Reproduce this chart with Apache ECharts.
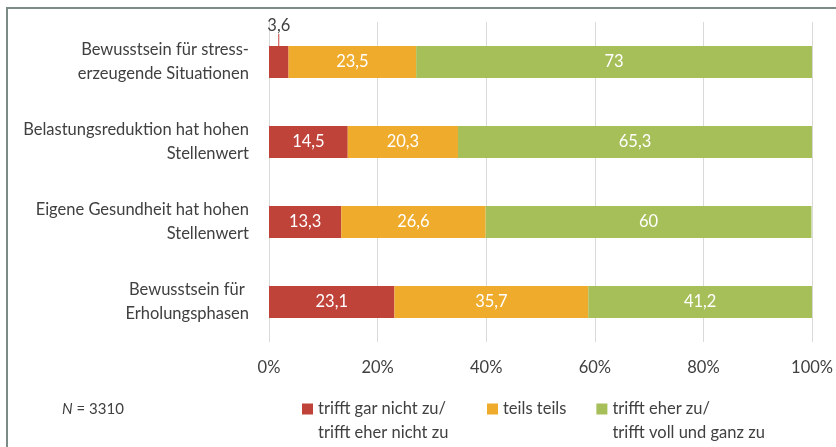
<!DOCTYPE html>
<html>
<head>
<meta charset="utf-8">
<script src="https://cdn.jsdelivr.net/npm/echarts@6/dist/echarts.min.js"></script>
<style>
  html, body { margin: 0; padding: 0; background: #fff; }
  #chart { width: 836px; height: 447px; }
</style>
</head>
<body>
<div id="chart"></div>
<script>
// Daten
const categories = [
  'Bewusstsein für stress-\nerzeugende Situationen',
  'Belastungsreduktion hat hohen\nStellenwert',
  'Eigene Gesundheit hat hohen\nStellenwert',
  'Bewusstsein für \nErholungsphasen'
]
const seriesNames = [
  'trifft gar nicht zu/\ntrifft eher nicht zu',
  'teils teils',
  'trifft eher zu/\ntrifft voll und ganz zu'
]
const nichtZu = [3.6, 14.5, 13.3, 23.1]
const teils = [23.5, 20.3, 26.6, 35.7]
const eherZu = [73, 65.3, 60, 41.2]
const xTicks = [0, 20, 40, 60, 80, 100]
const colors = ['#C0433A', '#EFAB2B', '#A6BF58']

const font = 'Lato, "Open Sans", sans-serif'
const textColor = '#404040'
const fs = 16.5

function fmt (v) {
  return String(v).replace('.', ',')
}

function makeSeries (name, data, color) {
  return {
    name: name,
    type: 'bar',
    stack: 'total',
    barWidth: 32,
    itemStyle: { color: color },
    label: {
      show: true,
      position: 'inside',
      color: '#fff',
      fontFamily: font,
      fontSize: fs,
      formatter: p => fmt(p.value)
    },
    emphasis: { disabled: true },
    data: data.slice()
  }
}

const series = [
  makeSeries(seriesNames[0], nichtZu, colors[0]),
  makeSeries(seriesNames[1], teils, colors[1]),
  makeSeries(seriesNames[2], eherZu, colors[2])
]
// kleiner Wert: Beschriftung oberhalb mit Linie
series[0].data[0] = {
  value: nichtZu[0],
  label: { position: 'top', distance: 11, color: textColor },
  labelLine: { show: true, lineStyle: { color: colors[0], width: 1 } }
}
series[0].labelLine = { show: false }
series[0].labelLayout = function (p) {
  return p.dataIndex === 0 ? { dy: -1 } : {}
}

// Legende: gemeinsame Einstellungen
function makeLegend (left, names) {
  return {
    left: left,
    top: 373,
    padding: 0,
    itemWidth: 11,
    itemHeight: 11,
    itemGap: 30,
    icon: 'rect',
    // Leerzeile davor, damit das Symbol auf Höhe der ersten Zeile steht
    formatter: name => (name.indexOf('\n') >= 0 ? '\n' + name : name),
    textStyle: { color: textColor, fontFamily: font, fontSize: fs, lineHeight: 24 },
    data: names
  }
}

const chart = echarts.init(document.getElementById('chart'))
chart.setOption({
  animation: false,
  grid: { left: 269, right: 23, top: 22, bottom: 105, containLabel: false },
  xAxis: {
    type: 'value',
    min: xTicks[0],
    max: xTicks[xTicks.length - 1],
    interval: 20,
    axisLine: { show: false },
    axisTick: { show: false },
    splitLine: { lineStyle: { color: '#D9D9D9', width: 1 } },
    axisLabel: {
      margin: 17,
      color: textColor,
      fontFamily: font,
      fontSize: fs,
      formatter: '{value}%'
    }
  },
  yAxis: {
    type: 'category',
    inverse: true,
    data: categories,
    axisLine: { show: false },
    axisTick: { show: false },
    axisLabel: {
      margin: 20,
      color: textColor,
      fontFamily: font,
      fontSize: fs,
      lineHeight: 24,
      align: 'right'
    }
  },
  legend: [
    makeLegend(302, [seriesNames[0]]),
    makeLegend(487, [seriesNames[1], seriesNames[2]])
  ],
  graphic: [
    {
      type: 'rect',
      shape: { x: 7, y: 8, width: 900, height: 500 },
      style: { fill: 'none', stroke: '#7D8B87', lineWidth: 2 },
      silent: true
    },
    {
      type: 'text',
      left: 62,
      top: 402,
      style: {
        text: '{i|N} = 3310',
        rich: {
          i: { fontStyle: 'italic', fontFamily: font, fontSize: 15, fill: textColor }
        },
        font: '15px ' + font,
        fill: textColor
      }
    }
  ],
  series: series
})
</script>
</body>
</html>
